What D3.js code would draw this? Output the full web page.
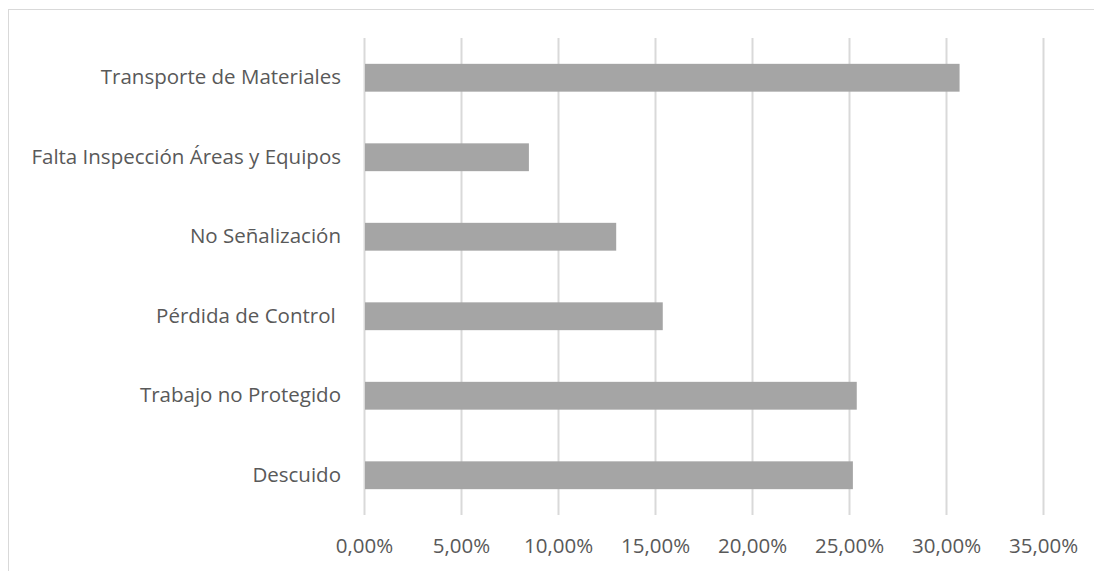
<!DOCTYPE html>
<html>
<head>
<meta charset="utf-8">
<script src="https://cdn.jsdelivr.net/npm/d3@7"></script>
<style>
  html, body { margin: 0; padding: 0; background: #fff; }
  svg { display: block; }
  text { font-family: "Open Sans", "Liberation Sans", sans-serif; fill: #595959; }
</style>
</head>
<body>
<svg id="chart" width="1094" height="571"></svg>
<script>
// Causes of incidents, share of total (%)
const categories = [
  "Transporte de Materiales",
  "Falta Inspección Áreas y Equipos",
  "No Señalización",
  "Pérdida de Control ",
  "Trabajo no Protegido",
  "Descuido"
];
const values = [30.7, 8.5, 13.0, 15.4, 25.4, 25.2];
const tickValues = [0, 5, 10, 15, 20, 25, 30, 35];

const width = 1094, height = 571;
const margin = { top: 38, right: 51, bottom: 56, left: 364 };
const fontSize = "20.5px";
const fontFamily = "\"Open Sans\", \"Liberation Sans\", sans-serif";

const svg = d3.select("#chart");

// outer chart frame
svg.append("rect")
  .attr("x", 8.5).attr("y", 9.5)
  .attr("width", 1100).attr("height", 600)
  .attr("fill", "none").attr("stroke", "#d9d9d9").attr("stroke-width", 1);

const x = d3.scaleLinear()
  .domain([0, 35])
  .range([margin.left, width - margin.right]);

const y = d3.scaleBand()
  .domain(categories)
  .range([margin.top, height - margin.bottom])
  .paddingInner(0.65)
  .paddingOuter(0.325);

// vertical gridlines
svg.append("g")
  .selectAll("line")
  .data(tickValues)
  .join("line")
  .attr("x1", d => Math.round(x(d)) + 0.5)
  .attr("x2", d => Math.round(x(d)) + 0.5)
  .attr("y1", margin.top)
  .attr("y2", height - margin.bottom)
  .attr("stroke", "#d9d9d9")
  .attr("stroke-width", 2);

// bars
svg.append("g")
  .selectAll("rect")
  .data(values)
  .join("rect")
  .attr("x", x(0) + 1)
  .attr("y", (d, i) => y(categories[i]))
  .attr("width", d => x(d) - x(0) - 1)
  .attr("height", y.bandwidth())
  .attr("fill", "#a5a5a5");

// x axis labels
const fmt = d => d.toFixed(2).replace(".", ",") + "%";
const xAxis = d3.axisBottom(x)
  .tickValues(tickValues)
  .tickFormat(fmt)
  .tickSize(0)
  .tickPadding(23);
const gx = svg.append("g")
  .attr("transform", `translate(0,${height - margin.bottom})`)
  .call(xAxis);
gx.select(".domain").remove();
gx.selectAll("text")
  .style("font-family", fontFamily)
  .style("font-size", fontSize)
  .attr("fill", "#595959");

// category labels
const yAxis = d3.axisLeft(y).tickSize(0).tickPadding(23);
const gy = svg.append("g")
  .attr("transform", `translate(${margin.left},0)`)
  .call(yAxis);
gy.select(".domain").remove();
gy.selectAll("text")
  .style("font-family", fontFamily)
  .style("font-size", fontSize)
  .style("white-space", "pre")
  .attr("fill", "#595959");
</script>
</body>
</html>
